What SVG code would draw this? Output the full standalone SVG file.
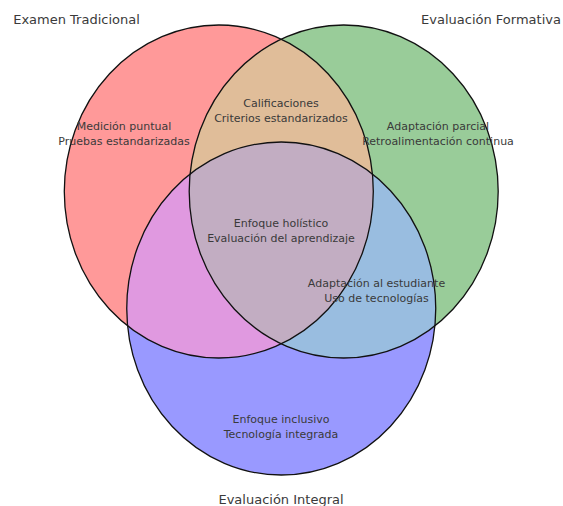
<svg xmlns="http://www.w3.org/2000/svg" width="563" height="506" viewBox="0 0 563 506">
<style>
.lbl{font-family:"DejaVu Sans","Liberation Sans",sans-serif;font-size:11px;fill:#3a3a3a;text-anchor:middle}
.ttl{font-family:"DejaVu Sans","Liberation Sans",sans-serif;font-size:13px;fill:#3a3a3a;text-anchor:middle}
.edge{fill:none;stroke:#111;stroke-width:1.3}
</style>
<defs>
<ellipse id="eA" cx="218.8" cy="191.5" rx="154.5" ry="166.5"/>
<ellipse id="eB" cx="343.7" cy="191.5" rx="154.5" ry="166.5"/>
<ellipse id="eC" cx="281.25" cy="308.5" rx="154.5" ry="166.5"/>
<clipPath id="cA"><use href="#eA"/></clipPath>
<clipPath id="cB"><use href="#eB"/></clipPath>
</defs>
<rect width="563" height="506" fill="#fff"/>
<g id="regions">
<use href="#eA" fill="#ff9999"/>
<use href="#eB" fill="#99cc99"/>
<use href="#eB" fill="#e0bd99" clip-path="url(#cA)"/>
<use href="#eC" fill="#9999ff"/>
<use href="#eC" fill="#e099e0" clip-path="url(#cA)"/>
<use href="#eC" fill="#99bde0" clip-path="url(#cB)"/>
<g clip-path="url(#cA)"><use href="#eC" fill="#c2adc2" clip-path="url(#cB)"/></g>
</g>
<g id="set-examen">
<use href="#eA" class="edge"/>
<text class="ttl" x="76.5" y="24">Examen Tradicional</text>
</g>
<g id="set-formativa">
<use href="#eB" class="edge"/>
<text class="ttl" x="491" y="24">Evaluación Formativa</text>
</g>
<g id="set-integral">
<use href="#eC" class="edge"/>
<text class="ttl" x="281" y="504">Evaluación Integral</text>
</g>
<g id="labels">
<text class="lbl" x="124" y="130">Medición puntual</text>
<text class="lbl" x="124" y="144.5">Pruebas estandarizadas</text>
<text class="lbl" x="281" y="107">Calificaciones</text>
<text class="lbl" x="281" y="122">Criterios estandarizados</text>
<text class="lbl" x="438" y="130">Adaptación parcial</text>
<text class="lbl" x="438" y="144.5">Retroalimentación continua</text>
<text class="lbl" x="281" y="227">Enfoque holístico</text>
<text class="lbl" x="281" y="242">Evaluación del aprendizaje</text>
<text class="lbl" x="376.5" y="287">Adaptación al estudiante</text>
<text class="lbl" x="376.5" y="302">Uso de tecnologías</text>
<text class="lbl" x="281" y="423">Enfoque inclusivo</text>
<text class="lbl" x="281" y="438">Tecnología integrada</text>
</g>
</svg>
